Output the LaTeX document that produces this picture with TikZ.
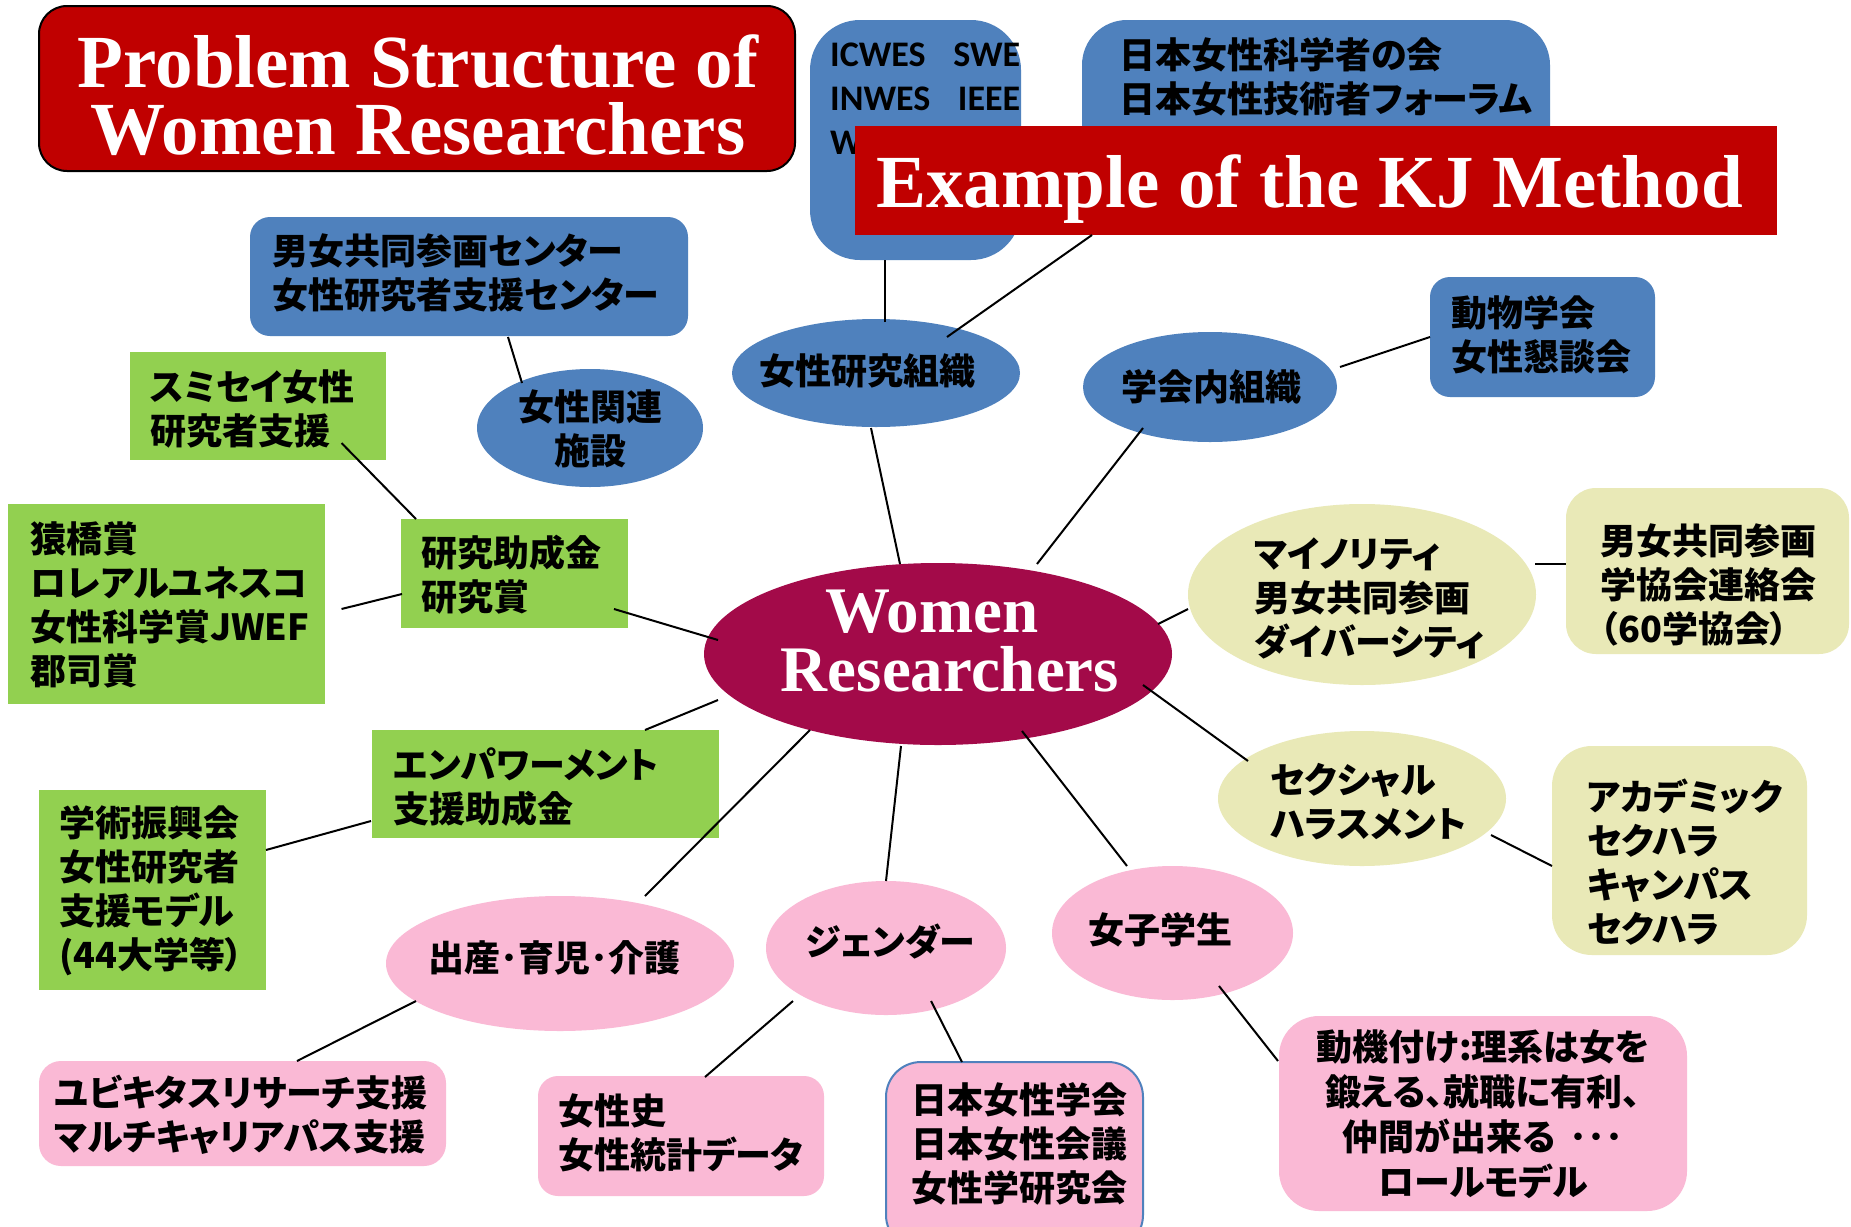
\documentclass[tikz,border=0pt]{standalone}
\usepackage{fontspec}
\usetikzlibrary{calc,shapes.geometric}
\newfontfamily\jpfont{Noto Sans CJK JP}[RawFeature=+palt]
\newfontfamily\serifb{Liberation Serif}
\newfontfamily\calib{Carlito}
\definecolor{kjblue}{HTML}{4F81BD}
\definecolor{kjgreen}{HTML}{92D050}
\definecolor{kjpink}{HTML}{FAB9D5}
\definecolor{kjyellow}{HTML}{E9E9B7}
\definecolor{kjred}{HTML}{C00000}
\definecolor{kjwine}{HTML}{A30A49}
\begin{document}
\begin{tikzpicture}[x=1pt,y=-1pt,
  shp/.style={inner sep=0pt, outer sep=0pt},
  rbox/.style={shp, rectangle, rounded corners=#1},
  rbox/.default=0pt,
  ell/.style={shp, ellipse},
  jt/.style={inner sep=0pt, text=black, font=\jpfont\bfseries\fontsize{36}{44}\selectfont, align=left},
  jtc/.style={jt, align=center},
  ttl/.style={inner sep=0pt, text=white, font=\serifb\bfseries\fontsize{75}{67}\selectfont, align=center},
  link/.style={line width=2pt, black},
]
\fill[white] (0,0) rectangle (1851,1226);
\useasboundingbox (0,0) rectangle (1851,1226);

% title
\node[rbox=28pt, fill=kjred, draw=black, line width=2pt, minimum width=756, minimum height=165] (title) at (417,88.5) {};
\node[ttl] (titlet) at (418,95) {Problem Structure of\\Women Researchers};

% top blue boxes
\node[rbox=50pt, fill=kjblue, minimum width=211, minimum height=240] (icwes) at (915.5,140) {};
\node[inner sep=0pt, anchor=north west, align=left, font=\calib\bfseries\fontsize{36}{44}\selectfont] (icwest) at (830,42.5)
  {\makebox[190pt][l]{ICWES\hfill SWE}\\\makebox[190pt][l]{INWES\hfill IEEE}\\W};
\node[rbox=45pt, fill=kjblue, minimum width=468, minimum height=200] (jwsa) at (1316,120) {};
\node[jt, anchor=west] (jwsat) at (1119,76.5) {日本女性科学者の会\\日本女性技術者フォーラム};
\node[rbox, fill=kjred, minimum width=922, minimum height=109] (kj) at (1316,180.5) {};
\node[ttl, anchor=base west] (kjt) at (876,207) {Example of the KJ Method};

% blue group
\node[rbox=20pt, fill=kjblue, minimum width=438, minimum height=119] (center1) at (469,276.5) {};
\node[jt, anchor=west] (center1t) at (272,272.5) {男女共同参画センター\\女性研究者支援センター};
\node[ell, fill=kjblue, minimum width=226, minimum height=118] (kanren) at (590,428) {};
\node[jtc] (kanrent) at (590,429) {女性関連\\施設};
\node[ell, fill=kjblue, minimum width=288, minimum height=108] (soshiki) at (876,373) {};
\node[jt] (soshikit) at (867,371) {女性研究組織};
\node[ell, fill=kjblue, minimum width=254, minimum height=110] (gakkai) at (1210,387) {};
\node[jt] (gakkait) at (1211,387) {学会内組織};
\node[rbox=20pt, fill=kjblue, minimum width=225, minimum height=120] (doubutsu) at (1542.5,337) {};
\node[jt, anchor=west] (doubutsut) at (1451,335) {動物学会\\女性懇談会};

% green group
\node[rbox, fill=kjgreen, minimum width=256, minimum height=108] (sumisei) at (258,406) {};
\node[jt, anchor=west] (sumiseit) at (150,409) {スミセイ女性\\研究者支援};
\node[rbox, fill=kjgreen, minimum width=227, minimum height=109] (kenkyu) at (514.5,573.5) {};
\node[jt, anchor=west] (kenkyut) at (421,575) {研究助成金\\研究賞};
\node[rbox, fill=kjgreen, minimum width=317, minimum height=200] (saru) at (166.5,604) {};
\node[jt, anchor=west] (sarut) at (30,605) {猿橋賞\\ロレアルユネスコ\\女性科学賞JWEF\\郡司賞};
\node[rbox, fill=kjgreen, minimum width=347, minimum height=108] (empower) at (545.5,784) {};
\node[jt, anchor=west] (empowert) at (393,787.5) {エンパワーメント\\支援助成金};
\node[rbox, fill=kjgreen, minimum width=227, minimum height=200] (gakujutsu) at (152.5,890) {};
\node[jt, anchor=west] (gakujutsut) at (59,891) {学術振興会\\女性研究者\\支援モデル\\(44大学等）};

% centre
\node[ell, fill=kjwine, minimum width=468, minimum height=182] (women) at (938,654) {};
\node[inner sep=0pt, text=white, font=\serifb\bfseries\fontsize{65}{59}\selectfont, align=center] (woment) at (950,641) {Women\hspace*{36pt}\\Researchers};

% yellow group
\node[ell, fill=kjyellow, minimum width=348, minimum height=181] (minority) at (1362,594.5) {};
\node[jt, anchor=west] (minorityt) at (1254,598) {マイノリティ\\男女共同参画\\ダイバーシティ};
\node[rbox=30pt, fill=kjyellow, minimum width=283, minimum height=166] (renraku) at (1707.5,571) {};
\node[jt, anchor=west] (renrakut) at (1600,585) {男女共同参画\\学協会連絡会\\（60学協会）};
\node[ell, fill=kjyellow, minimum width=288, minimum height=135] (sekuhara) at (1362,798.5) {};
\node[jt, anchor=west] (sekuharat) at (1270,802) {セクシャル\\ハラスメント};
\node[rbox=40pt, fill=kjyellow, minimum width=255, minimum height=209] (academic) at (1679.5,850.5) {};
\node[jt, anchor=west] (academict) at (1587,862) {アカデミック\\セクハラ\\キャンパス\\セクハラ};

% pink group
\node[ell, fill=kjpink, minimum width=241, minimum height=134] (joshi) at (1172.5,933) {};
\node[jt] (joshit) at (1160,930) {女子学生};
\node[ell, fill=kjpink, minimum width=240, minimum height=134] (gender) at (886,948) {};
\node[jt] (gendert) at (890,942) {ジェンダー};
\node[ell, fill=kjpink, minimum width=348, minimum height=135] (shussan) at (560,963.5) {};
\node[jt] (shussant) at (554,958) {出産･育児･介護};
\node[rbox=22pt, fill=kjpink, minimum width=407, minimum height=105] (ubi) at (242.5,1113.5) {};
\node[jt, anchor=west] (ubit) at (54,1115) {ユビキタスリサーチ支援\\マルチキャリアパス支援};
\node[rbox=20pt, fill=kjpink, minimum width=286, minimum height=120] (joseishi) at (681,1136) {};
\node[jt, anchor=west] (joseishit) at (558,1133) {女性史\\女性統計データ};
\node[rbox=35pt, fill=kjpink, draw=kjblue, line width=2pt, minimum width=257, minimum height=188] (nihon) at (1014.5,1156) {};
\node[jtc] (nihont) at (1019,1144) {日本女性学会\\日本女性会議\\女性学研究会};
\node[rbox=40pt, fill=kjpink, minimum width=408, minimum height=195] (motive) at (1483,1113.5) {};
\node[jtc, font=\jpfont\bfseries\fontsize{36}{45}\selectfont] (motivet) at (1483,1114.5) {動機付け:理系は女を\\鍛える、就職に有利、\\仲間が出来る\hspace{14pt}･･･\\ロールモデル};

% connectors
\draw[link] ($(soshiki)+(9,-51)$) -- ($(icwes)+(-30.5,120)$);
\draw[link] ($(soshiki)+(71,-36)$) -- ($(kj)+(-224,54.5)$);
\draw[link] ($(center1)+(39,60.5)$) -- ($(kanren)+(-68,-45)$);
\draw[link] ($(sumisei)+(83.5,37)$) -- ($(kenkyu)+(-98.5,-54.5)$);
\draw[link] ($(saru)+(175,5)$) -- ($(kenkyu)+(-112.5,20.5)$);
\draw[link] ($(kenkyu)+(99.5,35.5)$) -- ($(women)+(-220,-14)$);
\draw[link] ($(women)+(-220,46)$) -- ($(empower)+(99.5,-54)$);
\draw[link] ($(gakujutsu)+(113.5,-40)$) -- ($(empower)+(-174.5,37)$);
\draw[link] ($(women)+(-128,76)$) -- ($(shussan)+(85,-67.5)$);
\draw[link] ($(shussan)+(-144,37.5)$) -- ($(ubi)+(54.5,-52.5)$);
\draw[link] ($(women)+(-37,92)$) -- ($(gender)+(0,-67)$);
\draw[link] ($(gender)+(-93,53)$) -- ($(joseishi)+(24,-59)$);
\draw[link] ($(gender)+(45,53)$) -- ($(nihon)+(-52.5,-94)$);
\draw[link] ($(women)+(84,77)$) -- ($(joshi)+(-45.5,-67)$);
\draw[link] ($(joshi)+(46.5,53)$) -- ($(motive)+(-205,-52.5)$);
\draw[link] ($(women)+(205,31)$) -- ($(sekuhara)+(-114,-37.5)$);
\draw[link] ($(sekuhara)+(129,36.5)$) -- ($(academic)+(-127.5,15.5)$);
\draw[link] ($(women)+(220,-30)$) -- ($(minority)+(-174,14.5)$);
\draw[link] ($(minority)+(173,-30.5)$) -- ($(renraku)+(-141.5,-7)$);
\draw[link] ($(women)+(99,-90)$) -- ($(gakkai)+(-67,41)$);
\draw[link] ($(women)+(-38,-90)$) -- ($(soshiki)+(-5,55)$);
\draw[link] ($(gakkai)+(130,-20)$) -- ($(doubutsu)+(-112.5,0)$);
\end{tikzpicture}
\end{document}
